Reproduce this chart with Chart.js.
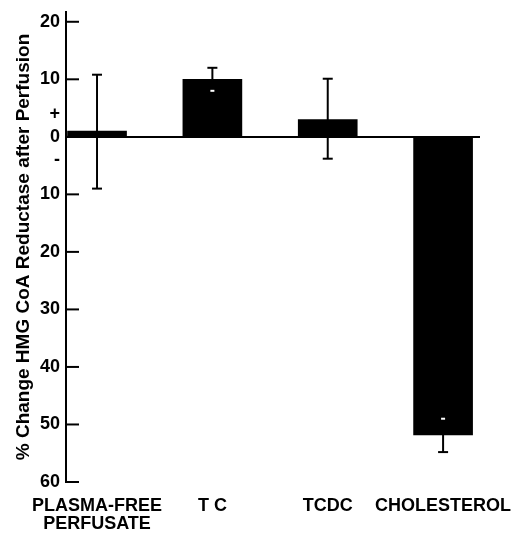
<!DOCTYPE html>
<html><head><meta charset="utf-8">
<script src="https://cdn.jsdelivr.net/npm/chart.js@4"></script>
<style>html,body{margin:0;padding:0;background:#fff}#wrap{width:526px;height:537px}</style>
</head><body><div id="wrap"><canvas id="c" width="526" height="537"></canvas></div>
<script>
const categories = [["PLASMA-FREE","PERFUSATE"],["T C"],["TCDC"],["CHOLESTEROL"]];
const positions = [1, 2, 3, 4];
const values = [1.0, 10.0, 3.0, -51.8];
const errHigh = [10.8, 12.0, 10.1, -49.0];
const errLow = [-9.0, 8.0, -3.8, -54.8];
const yTickValues = [-60, -50, -40, -30, -20, -10, 0, 10, 20];
const signTicks = [{value: -4, label: "-"}, {value: 4, label: "+"}];

const FONT = "'Liberation Sans', Arial, sans-serif";

const errorBars = {
  id: 'errorBars',
  afterDatasetsDraw(chart) {
    const {ctx, scales: {y}} = chart;
    const meta = chart.getDatasetMeta(0);
    ctx.save();
    ctx.lineWidth = 2;
    meta.data.forEach((bar, i) => {
      const cx = bar.x;
      const yh = y.getPixelForValue(errHigh[i]);
      const yl = y.getPixelForValue(errLow[i]);
      ctx.strokeStyle = '#000';
      ctx.beginPath(); ctx.moveTo(cx, yh); ctx.lineTo(cx, yl); ctx.stroke();
      [errHigh[i], errLow[i]].forEach(v => {
        const inside = values[i] >= 0 ? (v < values[i] && v > 0) : (v > values[i] && v < 0);
        const py = y.getPixelForValue(v);
        ctx.strokeStyle = inside ? '#fff' : '#000';
        const hw = inside ? 2 : 5;
        ctx.beginPath(); ctx.moveTo(cx - hw, py); ctx.lineTo(cx + hw, py); ctx.stroke();
      });
    });
    ctx.strokeStyle = '#000';
    ctx.lineWidth = 2;
    yTickValues.forEach(v => {
      const py = y.getPixelForValue(v);
      ctx.beginPath(); ctx.moveTo(y.right, py); ctx.lineTo(y.right + 13, py); ctx.stroke();
    });
    ctx.restore();
  }
};

new Chart(document.getElementById('c'), {
  type: 'bar',
  data: {
    datasets: [{
      data: positions.map((p, i) => ({x: p, y: values[i]})),
      backgroundColor: '#000',
      borderWidth: 0,
      barThickness: 59
    }]
  },
  options: {
    responsive: false,
    animation: false,
    plugins: {legend: {display: false}, tooltip: {enabled: false}},
    layout: {padding: {left: 0, right: 46, top: 12, bottom: 4}},
    scales: {
      x: {
        type: 'linear',
        offset: false,
        min: 0.731, max: 4.32,
        afterBuildTicks(s) { s.ticks = positions.map(v => ({value: v})); },
        afterFit(s) { s.height = 51; s.paddingLeft = 0; s.paddingRight = 0; },
        grid: {display: false, drawTicks: false, offset: false},
        border: {display: false},
        ticks: {
          autoSkip: false, maxRotation: 0, padding: 15, color: '#000',
          font: {family: FONT, size: 18, weight: 'bold', lineHeight: 1.0},
          callback(v) { const i = positions.indexOf(v); return i >= 0 ? categories[i] : ''; }
        }
      },
      y: {
        min: -60, max: 21.7,
        afterBuildTicks(s) {
          s.ticks = yTickValues.concat(signTicks.map(t => t.value)).sort((a, b) => a - b).map(v => ({value: v}));
        },
        afterFit(s) { s.width = 66; s.paddingTop = 0; s.paddingBottom = 0; },
        grid: {
          drawTicks: false, lineWidth: 2,
          color: c => (c.tick && c.tick.value === 0) ? '#000' : 'rgba(0,0,0,0)'
        },
        border: {display: true, color: '#000', width: 2},
        ticks: {
          autoSkip: false, padding: 6, color: '#000',
          font: {family: FONT, size: 18, weight: 'bold'},
          callback(v) { const s = signTicks.find(t => t.value === v); return s ? s.label : String(Math.abs(v)); }
        },
        title: {
          display: true, text: '% Change HMG CoA Reductase after Perfusion', color: '#000',
          font: {family: FONT, size: 19, weight: 'bold'}, padding: {top: 12, bottom: 0}
        }
      }
    }
  },
  plugins: [errorBars]
});
</script></body></html>
